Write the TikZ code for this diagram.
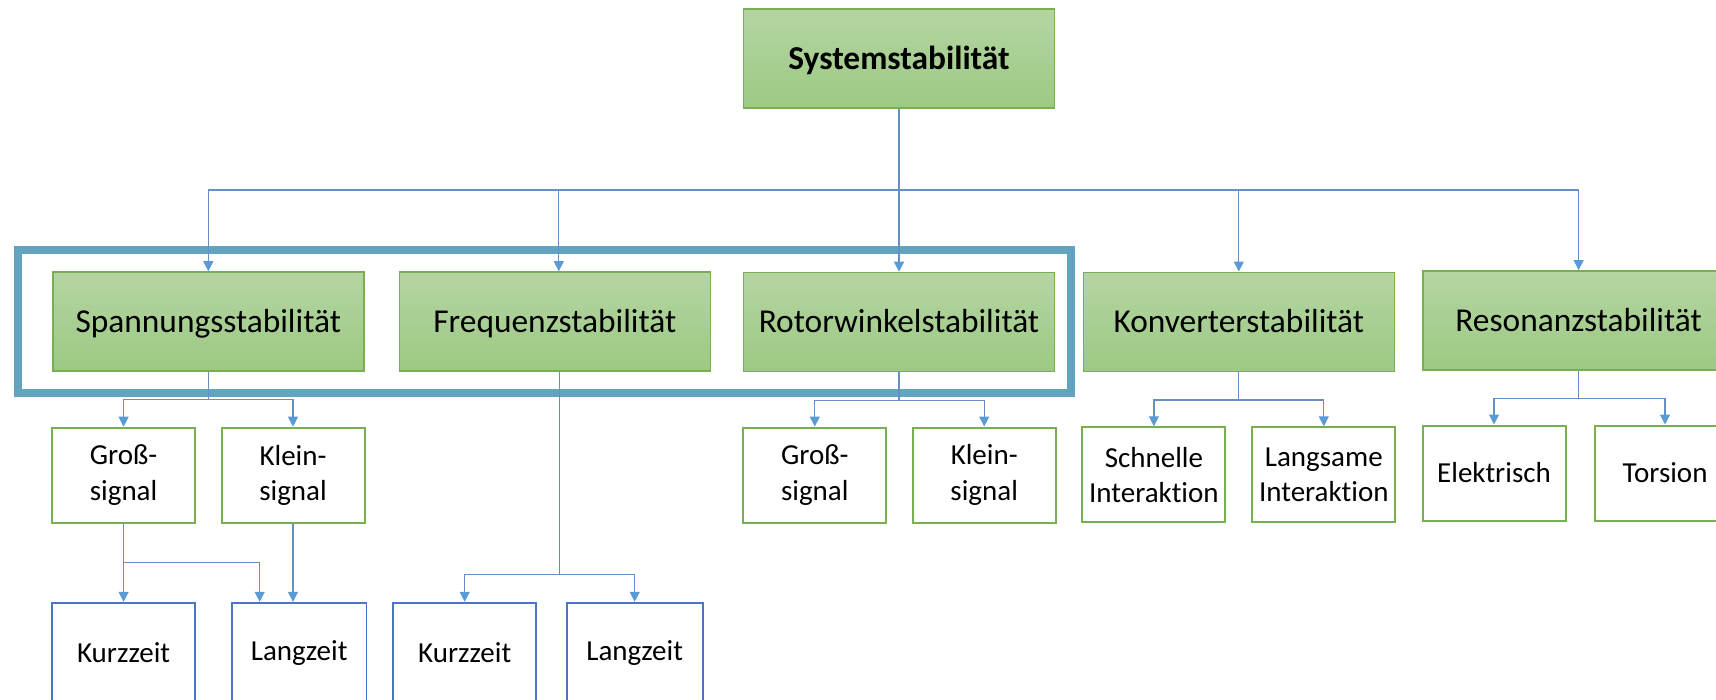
\documentclass[tikz,border=0pt]{standalone}
\usepackage{fontspec}
\setmainfont{Carlito}[Ligatures={NoCommon,NoContextual}]
\usetikzlibrary{arrows.meta,calc}
\definecolor{gtop}{HTML}{B5D5A3}
\definecolor{gbot}{HTML}{9CC983}
\definecolor{gline}{HTML}{77AF51}
\definecolor{bline}{HTML}{4A76C4}
\definecolor{connc}{HTML}{6690C4}
\definecolor{tipc}{HTML}{5B9BD5}
\definecolor{framec}{HTML}{62A3BF}
\tikzset{
 bigbox/.style={draw=gline, line width=1.5pt, top color=gtop, bottom color=gbot,
   minimum width=311pt, minimum height=99pt, inner sep=0pt,
   text height=21.5pt, text depth=0pt,
   font=\fontsize{33.4}{40}\selectfont},
 smallbox/.style={draw=gline, line width=2pt, fill=white, minimum width=143pt,
   minimum height=95pt, inner sep=0pt, align=center,
   font=\fontsize{29}{35.5}\selectfont},
 tallbox/.style={draw=bline, line width=1.8pt, fill=white, minimum height=100pt,
   inner sep=0pt, font=\fontsize{29}{35.5}\selectfont},
 ln/.style={draw=connc, line width=1.2pt},
 arr/.style={ln, -{Triangle[width=10pt,length=10pt,color=tipc]}},
 frm/.style={draw=framec, line width=8pt}
}
\begin{document}
\begin{tikzpicture}[x=1pt,y=-1pt]
\useasboundingbox (0,0) rectangle (1716,700);
\clip (0,0) rectangle (1716,700);
\fill[white] (0,0) rectangle (1716,700);
\draw[frm] (18.2,250) rectangle (1071,392.8);

% level 0
\node[bigbox, font=\fontsize{33.4}{40}\selectfont\bfseries] (sys) at (899,58.5) {Systemstabilität};
% level 1
\node[bigbox] (span) at (208.3,321.5) {Spannungsstabilität};
\node[bigbox] (freq) at (554.8,321.5) {Frequenzstabilität};
\node[bigbox] (rot)  at (899,322) {Rotorwinkelstabilität};
\node[bigbox] (konv) at (1238.8,321.8) {Konverterstabilität};
\node[bigbox] (reso) at (1578.6,320.3) {Resonanzstabilität};
% level 2
\node[smallbox] (gsa) at (123.6,475.2) {Groß-\\signal};
\node[smallbox] (ksa) at (293,475.2) {Klein-\\signal};
\node[smallbox] (gsb) at (814.8,475) {Groß-\\signal};
\node[smallbox] (ksb) at (984.2,475) {Klein-\\signal};
\node[smallbox] (schn) at (1153.9,474.8) {Schnelle\\Interaktion};
\node[smallbox] (lang) at (1323.8,474.8) {Langsame\\Interaktion};
\node[smallbox] (elek) at (1494,473) {Elektrisch};
\node[smallbox, minimum width=141pt] (tors) at (1665,473) {Torsion};
% level 3
\node[tallbox, minimum width=143pt] (kza) at (123.6,652.7) {Kurzzeit};
\node[tallbox, minimum width=134.4pt] (lza) at (299.2,652.7) {Langzeit};
\node[tallbox, minimum width=143pt] (kzb) at (464.7,652.7) {Kurzzeit};
\node[tallbox, minimum width=135.8pt] (lzb) at (634.7,652.7) {Langzeit};

% connectors
\coordinate (bus) at (899,190);
\draw[arr] (sys.south) -- (rot.north);
\draw[arr] (bus) -| (span.north);
\draw[arr] (bus) -| ([xshift=4pt]freq.north);
\draw[arr] (bus) -| (konv.north);
\draw[arr] (bus) -| (reso.north);

\draw[ln] (span.south) -- ++(0,28) coordinate (sj);
\draw[arr] (sj) -| (gsa.north);
\draw[arr] (sj) -| (ksa.north);

\draw[ln] ([xshift=5pt]freq.south) -- ++(0,203) coordinate (fj);
\draw[arr] (fj) -| (kzb.north);
\draw[arr] (fj) -| (lzb.north);

\draw[ln] (rot.south) -- ++(0,28.5) coordinate (rj);
\draw[arr] (rj) -| (gsb.north);
\draw[arr] (rj) -| (ksb.north);

\draw[ln] (konv.south) -- ++(0,28) coordinate (kj);
\draw[arr] (kj) -| (schn.north);
\draw[arr] (kj) -| (lang.north);

\draw[ln] (reso.south) -- ++(0,28) coordinate (rsj);
\draw[arr] (rsj) -| (elek.north);
\draw[arr] (rsj) -| (tors.north);

\draw[arr] (gsa.south) -- (kza.north);
\coordinate (gj) at ($(gsa.south)!0.5!(kza.north)$);
\draw[arr] (gj) -| ([xshift=-39.5pt]lza.north);
\draw[arr] (ksa.south) -- (ksa.south |- lza.north);
\end{tikzpicture}
\end{document}
